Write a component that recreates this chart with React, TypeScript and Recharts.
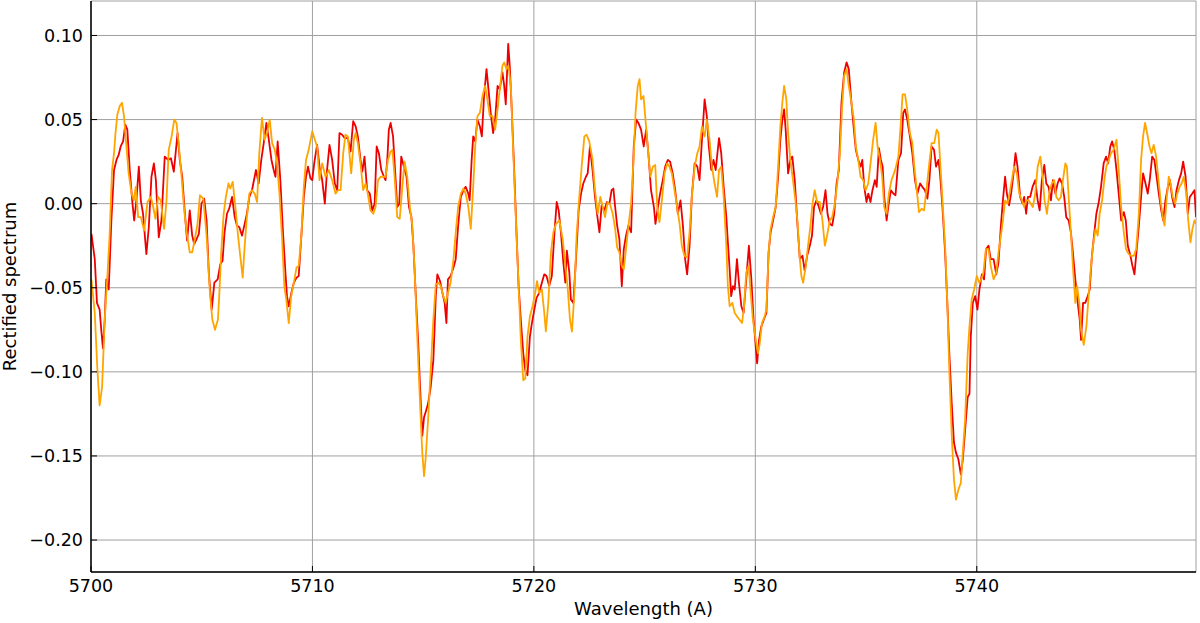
import { LineChart, Line, XAxis, YAxis, CartesianGrid, Label } from 'recharts';

const X_TICKS = [5700, 5710, 5720, 5730, 5740];
const Y_TICKS = [-0.2, -0.15, -0.1, -0.05, 0, 0.05, 0.1];
const X_DOMAIN: [number, number] = [5700, 5749.9];
const Y_DOMAIN: [number, number] = [-0.219, 0.1205];

// [wavelength (A), rectified flux]
const RED_SPECTRUM: [number, number][] = [
  [5700.02, -0.018], [5700.17, -0.033], [5700.27, -0.059], [5700.39, -0.063], [5700.47, -0.076], [5700.54, -0.086],
  [5700.62, -0.069], [5700.69, -0.045], [5700.80, -0.051], [5700.92, -0.010], [5701.04, 0.020], [5701.15, 0.026],
  [5701.25, 0.029], [5701.34, 0.034], [5701.45, 0.037], [5701.55, 0.047], [5701.64, 0.044], [5701.75, 0.020],
  [5701.86, 0.002], [5701.95, -0.010], [5702.05, 0.002], [5702.16, 0.022], [5702.25, 0.002], [5702.35, -0.006],
  [5702.50, -0.030], [5702.61, -0.014], [5702.73, 0.016], [5702.84, 0.024], [5702.93, 0.014], [5703.06, -0.020],
  [5703.18, -0.010], [5703.33, 0.028], [5703.48, 0.026], [5703.61, 0.027], [5703.74, 0.019], [5703.91, 0.042],
  [5704.01, 0.026], [5704.12, 0.016], [5704.24, -0.006], [5704.34, -0.022], [5704.46, -0.004], [5704.57, -0.019],
  [5704.66, -0.024], [5704.77, -0.021], [5704.87, -0.018], [5704.99, 0.000], [5705.11, 0.003], [5705.22, -0.010],
  [5705.32, -0.041], [5705.45, -0.063], [5705.57, -0.047], [5705.72, -0.045],
  [5705.84, -0.036], [5705.94, -0.034], [5706.03, -0.017], [5706.14, -0.006], [5706.24, -0.003], [5706.37, 0.004],
  [5706.49, -0.008], [5706.59, -0.013], [5706.70, -0.014], [5706.82, -0.019], [5706.94, -0.012], [5707.04, -0.006],
  [5707.15, 0.004], [5707.27, 0.008], [5707.39, 0.016], [5707.45, 0.020], [5707.57, 0.012], [5707.69, 0.026],
  [5707.80, 0.036], [5707.92, 0.048], [5708.02, 0.039], [5708.15, 0.026], [5708.25, 0.020], [5708.33, 0.016],
  [5708.43, 0.037], [5708.55, 0.014], [5708.67, -0.017], [5708.78, -0.041], [5708.85, -0.055], [5708.93, -0.061],
  [5709.05, -0.053], [5709.16, -0.047], [5709.28, -0.044], [5709.38, -0.043], [5709.50, -0.019], [5709.61, 0.004],
  [5709.71, 0.016], [5709.80, 0.022], [5709.91, 0.015], [5709.99, 0.014], [5710.09, 0.025], [5710.21, 0.035],
  [5710.32, 0.022], [5710.44, 0.014], [5710.56, 0.000], [5710.66, 0.020], [5710.77, 0.035], [5710.89, 0.026],
  [5711.01, 0.012], [5711.12, 0.008], [5711.22, 0.042], [5711.34, 0.041], [5711.46, 0.039],
  [5711.60, 0.039], [5711.72, 0.031], [5711.84, 0.049], [5711.95, 0.046], [5712.05, 0.040], [5712.17, 0.026],
  [5712.25, 0.019], [5712.35, 0.028], [5712.47, 0.008], [5712.59, 0.006], [5712.70, -0.004], [5712.81, 0.000],
  [5712.90, 0.034], [5713.00, 0.030], [5713.11, 0.020], [5713.23, 0.016], [5713.30, 0.014], [5713.38, 0.026],
  [5713.45, 0.044], [5713.53, 0.048], [5713.64, 0.040], [5713.73, 0.020], [5713.83, -0.002], [5713.92, 0.000],
  [5714.01, 0.028], [5714.13, 0.022], [5714.25, 0.016], [5714.36, -0.002], [5714.47, -0.008], [5714.56, -0.025],
  [5714.66, -0.053], [5714.77, -0.081], [5714.86, -0.109], [5714.96, -0.138], [5715.04, -0.127], [5715.11, -0.124],
  [5715.22, -0.119], [5715.34, -0.109], [5715.46, -0.093], [5715.57, -0.055], [5715.64, -0.042], [5715.76, -0.046],
  [5715.87, -0.053], [5715.97, -0.059], [5716.05, -0.071], [5716.12, -0.045], [5716.24, -0.043], [5716.37, -0.038],
  [5716.47, -0.033], [5716.58, -0.013], [5716.70, 0.004], [5716.82, 0.008], [5716.92, 0.010],
  [5717.04, 0.006], [5717.10, 0.002], [5717.19, 0.026], [5717.26, 0.040], [5717.35, 0.037], [5717.45, 0.050],
  [5717.56, 0.046], [5717.65, 0.040], [5717.75, 0.064], [5717.86, 0.080], [5717.95, 0.068], [5718.05, 0.054],
  [5718.16, 0.042], [5718.25, 0.050], [5718.36, 0.070], [5718.46, 0.068], [5718.58, 0.078], [5718.66, 0.070],
  [5718.73, 0.059], [5718.84, 0.095], [5718.91, 0.082], [5719.00, 0.056], [5719.11, 0.020], [5719.22, -0.019],
  [5719.31, -0.049], [5719.41, -0.069], [5719.52, -0.089], [5719.61, -0.099], [5719.71, -0.102], [5719.82, -0.079],
  [5719.91, -0.071], [5720.02, -0.063], [5720.12, -0.056], [5720.24, -0.053], [5720.36, -0.047], [5720.47, -0.042],
  [5720.57, -0.043], [5720.69, -0.049], [5720.81, -0.043], [5720.92, -0.019], [5721.03, 0.001], [5721.12, -0.004],
  [5721.22, -0.017], [5721.33, -0.035], [5721.42, -0.047], [5721.49, -0.028], [5721.60, -0.041], [5721.67, -0.057],
  [5721.78, -0.059], [5721.90, -0.033], [5722.02, -0.004], [5722.13, 0.006], [5722.23, 0.012], [5722.35, 0.016],
  [5722.43, 0.018], [5722.53, 0.034],
  [5722.65, 0.020], [5722.76, 0.004], [5722.85, -0.006], [5722.96, -0.017], [5723.06, -0.001], [5723.18, -0.004],
  [5723.30, 0.001], [5723.41, 0.000], [5723.51, 0.008], [5723.59, 0.009], [5723.67, -0.002], [5723.76, -0.013],
  [5723.86, -0.021], [5723.97, -0.049], [5724.06, -0.027], [5724.16, -0.019], [5724.27, -0.013], [5724.39, -0.017],
  [5724.51, 0.034], [5724.62, 0.050], [5724.72, 0.048], [5724.84, 0.044], [5724.96, 0.034], [5725.07, 0.044],
  [5725.17, 0.030], [5725.29, 0.008], [5725.42, -0.002], [5725.49, -0.012], [5725.60, -0.002], [5725.70, 0.006],
  [5725.82, 0.014], [5725.93, 0.022], [5726.05, 0.026], [5726.15, 0.025], [5726.27, 0.018], [5726.38, 0.008],
  [5726.50, -0.006], [5726.62, 0.002], [5726.73, -0.013], [5726.83, -0.033], [5726.92, -0.042], [5727.03, -0.025],
  [5727.13, 0.004], [5727.26, 0.024], [5727.38, 0.022], [5727.48, 0.014], [5727.59, 0.038], [5727.71, 0.062],
  [5727.81, 0.052], [5727.90, 0.034], [5728.01, 0.020], [5728.11, 0.026], [5728.21, 0.020],
  [5728.36, 0.039], [5728.46, 0.030], [5728.57, 0.010], [5728.69, -0.008], [5728.76, -0.023], [5728.84, -0.039],
  [5728.91, -0.055], [5728.99, -0.049], [5729.07, -0.051], [5729.17, -0.033], [5729.26, -0.047], [5729.37, -0.061],
  [5729.47, -0.065], [5729.59, -0.045], [5729.71, -0.025], [5729.82, -0.045], [5729.92, -0.069], [5730.02, -0.085],
  [5730.08, -0.095], [5730.17, -0.081], [5730.27, -0.073], [5730.38, -0.069], [5730.50, -0.065], [5730.60, -0.029],
  [5730.69, -0.017], [5730.80, -0.010], [5730.92, -0.002], [5731.03, 0.016], [5731.13, 0.038], [5731.22, 0.050],
  [5731.30, 0.056], [5731.37, 0.044], [5731.48, 0.018], [5731.58, 0.026], [5731.67, 0.028], [5731.78, 0.014],
  [5731.89, -0.010], [5732.01, -0.033], [5732.13, -0.031], [5732.23, -0.040], [5732.34, -0.031], [5732.46, -0.025],
  [5732.56, -0.019], [5732.65, -0.002], [5732.76, 0.002], [5732.87, -0.002], [5732.96, -0.006], [5733.06, -0.002],
  [5733.17, 0.008], [5733.26, -0.006], [5733.36, -0.012], [5733.47, -0.013], [5733.56, -0.006], [5733.67, 0.012],
  [5733.77, 0.020],
  [5733.89, 0.060], [5734.01, 0.078], [5734.12, 0.084], [5734.22, 0.080], [5734.34, 0.060], [5734.45, 0.044],
  [5734.54, 0.032], [5734.65, 0.026], [5734.75, 0.022], [5734.83, 0.026], [5734.92, 0.010], [5735.02, 0.001],
  [5735.10, 0.006], [5735.20, 0.001], [5735.29, 0.008], [5735.40, 0.014], [5735.48, 0.010], [5735.58, 0.033],
  [5735.67, 0.026], [5735.75, 0.022], [5735.82, 0.004], [5735.93, -0.010], [5736.00, -0.002], [5736.12, 0.008],
  [5736.23, 0.006], [5736.33, 0.005], [5736.46, 0.026], [5736.58, 0.030], [5736.68, 0.054], [5736.76, 0.056],
  [5736.86, 0.050], [5736.98, 0.040], [5737.09, 0.030], [5737.21, 0.014], [5737.32, 0.006], [5737.44, 0.012],
  [5737.54, 0.010], [5737.66, 0.008], [5737.77, 0.003], [5737.86, 0.014], [5737.96, 0.034], [5738.07, 0.032],
  [5738.16, 0.022], [5738.27, 0.026], [5738.34, 0.018], [5738.45, -0.002], [5738.57, -0.029], [5738.67, -0.059],
  [5738.76, -0.089], [5738.87, -0.119], [5738.97, -0.142], [5739.06, -0.148], [5739.17, -0.152], [5739.28, -0.161],
  [5739.37, -0.152], [5739.47, -0.135], [5739.59, -0.115],
  [5739.67, -0.113], [5739.73, -0.079], [5739.82, -0.059], [5739.93, -0.055], [5740.03, -0.063], [5740.12, -0.051],
  [5740.23, -0.042], [5740.33, -0.045], [5740.42, -0.027], [5740.53, -0.025], [5740.63, -0.033], [5740.76, -0.033],
  [5740.88, -0.042], [5740.98, -0.035], [5741.09, -0.013], [5741.18, 0.002], [5741.28, 0.016], [5741.36, 0.006],
  [5741.46, -0.001], [5741.55, 0.006], [5741.66, 0.018], [5741.75, 0.030], [5741.84, 0.022], [5741.96, 0.004],
  [5742.07, 0.000], [5742.14, 0.004], [5742.23, -0.006], [5742.31, 0.004], [5742.41, 0.004], [5742.52, 0.010],
  [5742.64, 0.014], [5742.75, 0.002], [5742.84, -0.004], [5742.94, 0.014], [5743.05, 0.023], [5743.14, 0.012],
  [5743.24, 0.010], [5743.35, 0.002], [5743.44, 0.014], [5743.55, 0.006], [5743.65, 0.012], [5743.74, 0.015],
  [5743.85, 0.012], [5743.95, 0.004], [5744.04, -0.008], [5744.15, -0.010], [5744.25, -0.017], [5744.34, -0.029],
  [5744.45, -0.045], [5744.56, -0.059], [5744.65, -0.069],
  [5744.71, -0.081], [5744.80, -0.059], [5744.90, -0.059], [5745.01, -0.055], [5745.10, -0.051], [5745.20, -0.031],
  [5745.31, -0.017], [5745.40, -0.006], [5745.51, 0.001], [5745.61, 0.010], [5745.73, 0.024], [5745.84, 0.028],
  [5745.93, 0.024], [5746.03, 0.034], [5746.11, 0.037], [5746.21, 0.032], [5746.31, 0.020], [5746.41, 0.006],
  [5746.52, -0.010], [5746.64, -0.005], [5746.73, -0.010], [5746.82, -0.025], [5746.94, -0.031], [5747.03, -0.037],
  [5747.12, -0.042], [5747.21, -0.029], [5747.32, -0.013], [5747.42, 0.004], [5747.51, 0.018], [5747.62, 0.012],
  [5747.72, 0.006], [5747.81, 0.014], [5747.92, 0.028], [5748.02, 0.026], [5748.12, 0.016], [5748.22, 0.006],
  [5748.33, -0.004], [5748.42, -0.010], [5748.52, 0.002], [5748.63, 0.010], [5748.72, 0.014], [5748.82, 0.004],
  [5748.93, -0.002], [5749.02, 0.008], [5749.13, 0.014], [5749.23, 0.018], [5749.32, 0.025], [5749.43, 0.016],
  [5749.53, -0.006], [5749.62, 0.004], [5749.73, 0.006], [5749.83, 0.008], [5749.90, -0.008],
];

const ORANGE_SPECTRUM: [number, number][] = [
  [5700.02, -0.045], [5700.17, -0.065], [5700.29, -0.099], [5700.39, -0.120], [5700.50, -0.109], [5700.62, -0.069],
  [5700.74, -0.043], [5700.84, -0.019], [5700.95, 0.020], [5701.04, 0.030], [5701.10, 0.041], [5701.19, 0.053],
  [5701.30, 0.058], [5701.40, 0.060], [5701.49, 0.052], [5701.60, 0.034], [5701.70, 0.018], [5701.83, 0.006],
  [5701.93, 0.002], [5702.02, 0.010], [5702.13, -0.008], [5702.25, -0.008], [5702.40, -0.016], [5702.55, 0.001],
  [5702.70, 0.004], [5702.81, -0.002], [5702.91, -0.009], [5703.03, 0.004], [5703.15, 0.002], [5703.30, -0.015],
  [5703.41, 0.002], [5703.51, 0.032], [5703.64, 0.040], [5703.76, 0.050], [5703.86, 0.048], [5703.97, 0.034],
  [5704.09, 0.016], [5704.21, -0.004], [5704.33, -0.018], [5704.46, -0.029], [5704.57, -0.029], [5704.69, -0.021],
  [5704.81, -0.012], [5704.92, 0.005], [5705.07, 0.003], [5705.22, -0.019], [5705.37, -0.053], [5705.48, -0.069],
  [5705.60, -0.075],
  [5705.73, -0.069], [5705.79, -0.055], [5705.88, -0.029], [5705.99, -0.006], [5706.09, 0.004], [5706.21, 0.012],
  [5706.29, 0.009], [5706.40, 0.013], [5706.52, -0.002], [5706.64, -0.019], [5706.74, -0.031], [5706.85, -0.044],
  [5706.94, -0.025], [5707.04, -0.008], [5707.15, 0.006], [5707.27, 0.008], [5707.39, 0.006], [5707.50, 0.001],
  [5707.60, 0.030], [5707.72, 0.051], [5707.84, 0.038], [5707.95, 0.042], [5708.07, 0.050], [5708.18, 0.036],
  [5708.30, 0.032], [5708.40, 0.024], [5708.51, 0.006], [5708.63, -0.021], [5708.73, -0.049], [5708.82, -0.057],
  [5708.93, -0.071], [5709.04, -0.055], [5709.16, -0.047], [5709.28, -0.038], [5709.38, -0.037], [5709.50, -0.019],
  [5709.61, 0.010], [5709.71, 0.026], [5709.83, 0.032], [5709.99, 0.043], [5710.11, 0.038], [5710.21, 0.034],
  [5710.32, 0.014], [5710.44, 0.024], [5710.59, 0.016], [5710.74, 0.020], [5710.89, 0.014], [5711.04, 0.006],
  [5711.16, 0.008],
  [5711.27, 0.008], [5711.39, 0.030], [5711.49, 0.041], [5711.60, 0.040], [5711.75, 0.018], [5711.87, 0.038],
  [5711.95, 0.042], [5712.05, 0.036], [5712.17, 0.024], [5712.29, 0.008], [5712.40, 0.012], [5712.50, 0.006],
  [5712.62, -0.004], [5712.75, -0.006], [5712.85, -0.002], [5712.96, 0.014], [5713.08, 0.016], [5713.20, 0.016],
  [5713.30, 0.016], [5713.41, 0.026], [5713.53, 0.031], [5713.61, 0.032], [5713.71, 0.016], [5713.83, -0.008],
  [5713.94, -0.009], [5714.06, 0.010], [5714.16, 0.025], [5714.28, 0.016], [5714.40, -0.002], [5714.51, -0.013],
  [5714.62, -0.041], [5714.74, -0.081], [5714.86, -0.119], [5714.96, -0.148], [5715.04, -0.162], [5715.11, -0.152],
  [5715.22, -0.129], [5715.34, -0.099], [5715.46, -0.069], [5715.57, -0.048], [5715.69, -0.047], [5715.79, -0.049],
  [5715.91, -0.055], [5716.02, -0.059], [5716.12, -0.053], [5716.24, -0.047], [5716.37, -0.033], [5716.47, -0.017],
  [5716.58, -0.002], [5716.70, 0.006], [5716.82, 0.009],
  [5716.92, 0.006], [5717.04, -0.002], [5717.15, -0.015], [5717.26, 0.010], [5717.35, 0.034], [5717.45, 0.052],
  [5717.56, 0.054], [5717.68, 0.064], [5717.80, 0.070], [5717.90, 0.062], [5718.01, 0.052], [5718.13, 0.052],
  [5718.25, 0.044], [5718.36, 0.056], [5718.46, 0.068], [5718.58, 0.082], [5718.66, 0.084], [5718.76, 0.080],
  [5718.85, 0.082], [5718.96, 0.070], [5719.07, 0.030], [5719.19, -0.010], [5719.31, -0.049], [5719.41, -0.081],
  [5719.52, -0.105], [5719.61, -0.104], [5719.71, -0.079], [5719.82, -0.067], [5719.94, -0.061], [5720.06, -0.053],
  [5720.14, -0.046], [5720.24, -0.053], [5720.36, -0.051], [5720.47, -0.065], [5720.54, -0.076], [5720.65, -0.059],
  [5720.77, -0.029], [5720.88, -0.017], [5721.00, -0.012], [5721.15, -0.010], [5721.30, -0.021], [5721.42, -0.037],
  [5721.52, -0.049], [5721.63, -0.069], [5721.72, -0.076], [5721.83, -0.053], [5721.93, -0.019], [5722.05, 0.004],
  [5722.17, 0.024], [5722.28, 0.040], [5722.38, 0.041], [5722.50, 0.037],
  [5722.65, 0.026], [5722.76, 0.008], [5722.88, -0.006], [5723.00, 0.004], [5723.11, -0.002], [5723.21, -0.008],
  [5723.33, 0.001], [5723.45, -0.001], [5723.56, -0.006], [5723.67, -0.015], [5723.76, -0.026], [5723.86, -0.029],
  [5723.97, -0.037], [5724.06, -0.039], [5724.16, -0.027], [5724.27, -0.013], [5724.39, 0.000], [5724.50, 0.026],
  [5724.59, 0.054], [5724.69, 0.070], [5724.77, 0.074], [5724.84, 0.062], [5724.95, 0.064], [5725.04, 0.050],
  [5725.14, 0.034], [5725.26, 0.016], [5725.37, 0.022], [5725.48, 0.023], [5725.57, -0.002], [5725.67, -0.011],
  [5725.78, 0.002], [5725.90, 0.018], [5726.02, 0.024], [5726.12, 0.022], [5726.23, 0.018], [5726.35, 0.008],
  [5726.47, -0.002], [5726.58, -0.012], [5726.68, -0.025], [5726.80, -0.031], [5726.92, -0.032], [5727.03, -0.017],
  [5727.13, 0.004], [5727.26, 0.022], [5727.38, 0.030], [5727.48, 0.034], [5727.59, 0.046], [5727.71, 0.040],
  [5727.81, 0.050], [5727.93, 0.038], [5728.04, 0.022], [5728.16, 0.012], [5728.27, 0.004],
  [5728.36, 0.020], [5728.46, 0.022], [5728.57, 0.004], [5728.69, -0.025], [5728.76, -0.049], [5728.84, -0.061],
  [5728.96, -0.059], [5729.07, -0.065], [5729.17, -0.067], [5729.29, -0.069], [5729.40, -0.071], [5729.49, -0.061],
  [5729.59, -0.041], [5729.70, -0.037], [5729.79, -0.053], [5729.89, -0.069], [5730.02, -0.081], [5730.12, -0.089],
  [5730.20, -0.083], [5730.30, -0.071], [5730.42, -0.067], [5730.50, -0.063], [5730.60, -0.029], [5730.69, -0.015],
  [5730.80, -0.008], [5730.92, -0.002], [5731.03, 0.022], [5731.13, 0.046], [5731.22, 0.060], [5731.30, 0.070],
  [5731.40, 0.062], [5731.48, 0.042], [5731.58, 0.026], [5731.70, 0.014], [5731.81, 0.002], [5731.90, -0.010],
  [5732.01, -0.033], [5732.08, -0.043], [5732.16, -0.047], [5732.28, -0.037], [5732.38, -0.025], [5732.49, -0.013],
  [5732.58, 0.000], [5732.68, 0.008], [5732.79, 0.001], [5732.91, 0.001], [5733.03, -0.010], [5733.14, -0.025],
  [5733.24, -0.019], [5733.36, -0.010], [5733.47, -0.008], [5733.59, 0.000], [5733.70, 0.012], [5733.82, 0.030],
  [5733.92, 0.058],
  [5734.01, 0.076], [5734.12, 0.080], [5734.22, 0.070], [5734.34, 0.060], [5734.45, 0.050], [5734.54, 0.034],
  [5734.65, 0.026], [5734.75, 0.016], [5734.87, 0.014], [5734.98, 0.008], [5735.10, 0.012], [5735.22, 0.026],
  [5735.32, 0.038], [5735.43, 0.048], [5735.52, 0.034], [5735.63, 0.026], [5735.73, 0.016], [5735.82, -0.002],
  [5735.93, -0.006], [5736.03, 0.006], [5736.15, 0.014], [5736.26, 0.018], [5736.35, 0.022], [5736.46, 0.028],
  [5736.56, 0.046], [5736.65, 0.065], [5736.76, 0.065], [5736.86, 0.056], [5736.98, 0.042], [5737.09, 0.036],
  [5737.18, 0.022], [5737.29, 0.008], [5737.39, -0.005], [5737.51, -0.003], [5737.62, -0.004], [5737.74, 0.010],
  [5737.84, 0.022], [5737.96, 0.036], [5738.08, 0.036], [5738.19, 0.044], [5738.27, 0.042], [5738.37, 0.020],
  [5738.46, 0.000], [5738.57, -0.025], [5738.67, -0.059], [5738.76, -0.099], [5738.87, -0.138], [5738.97, -0.164],
  [5739.06, -0.176], [5739.17, -0.170], [5739.28, -0.166], [5739.37, -0.148], [5739.47, -0.129], [5739.59, -0.089],
  [5739.67, -0.073], [5739.77, -0.057], [5739.88, -0.051], [5740.00, -0.043], [5740.11, -0.047], [5740.21, -0.045],
  [5740.30, -0.041], [5740.41, -0.027], [5740.53, -0.027], [5740.63, -0.037], [5740.76, -0.045], [5740.88, -0.041],
  [5740.98, -0.029], [5741.09, -0.019], [5741.18, -0.010], [5741.28, 0.002], [5741.39, 0.000], [5741.48, 0.006],
  [5741.58, 0.014], [5741.69, 0.022], [5741.81, 0.018], [5741.92, 0.006], [5742.04, 0.002], [5742.14, -0.002],
  [5742.23, 0.002], [5742.34, 0.002], [5742.44, 0.000], [5742.53, -0.002], [5742.64, 0.006], [5742.75, 0.022],
  [5742.87, 0.028], [5742.97, 0.016], [5743.06, 0.002], [5743.17, -0.006], [5743.29, 0.008], [5743.39, 0.012],
  [5743.50, 0.014], [5743.59, 0.004], [5743.70, 0.002], [5743.80, 0.004], [5743.89, 0.014], [5744.00, 0.024],
  [5744.07, 0.022], [5744.15, 0.004], [5744.25, -0.017], [5744.34, -0.037], [5744.45, -0.059], [5744.53, -0.049],
  [5744.63, -0.059],
  [5744.71, -0.075], [5744.83, -0.084], [5744.95, -0.073], [5745.05, -0.055], [5745.16, -0.037], [5745.25, -0.025],
  [5745.36, -0.015], [5745.46, -0.019], [5745.55, -0.006], [5745.66, 0.002], [5745.76, 0.014], [5745.85, 0.022],
  [5745.96, 0.026], [5746.06, 0.030], [5746.18, 0.032], [5746.31, 0.038], [5746.41, 0.020], [5746.52, -0.002],
  [5746.64, -0.017], [5746.74, -0.027], [5746.86, -0.030], [5746.97, -0.031], [5747.09, -0.031], [5747.20, -0.027],
  [5747.32, -0.006], [5747.42, 0.026], [5747.51, 0.040], [5747.60, 0.048], [5747.69, 0.042], [5747.80, 0.034],
  [5747.89, 0.030], [5747.99, 0.035], [5748.10, 0.028], [5748.19, 0.016], [5748.30, 0.002], [5748.40, -0.008],
  [5748.48, -0.013], [5748.57, 0.002], [5748.67, 0.016], [5748.75, 0.012], [5748.85, 0.004], [5748.96, 0.000],
  [5749.05, 0.006], [5749.16, 0.010], [5749.25, 0.012], [5749.35, 0.016], [5749.46, 0.006], [5749.55, -0.010],
  [5749.65, -0.023], [5749.74, -0.015], [5749.83, -0.010], [5749.90, -0.012],
];

const FONT = '"DejaVu Sans", Verdana, sans-serif';
const TICK_LEN = 6;

const redData = RED_SPECTRUM.map(([wl, flux]) => ({ wl, flux }));
const orangeData = ORANGE_SPECTRUM.map(([wl, flux]) => ({ wl, flux }));

function fmtY(v: number) {
  const s = Math.abs(v).toFixed(2);
  return v < -1e-9 ? '\u2212' + s : s;
}

// ticks point into the plot, like matplotlib's classic style
function BottomTick({ x, y, payload }: any) {
  return (
    <g>
      <line x1={x} y1={y} x2={x} y2={y - TICK_LEN} stroke="#000" strokeWidth={1} />
      <text x={x} y={y + 20} textAnchor="middle" fontSize={17.5} fontFamily={FONT} fill="#000">
        {payload.value}
      </text>
    </g>
  );
}

function LeftTick({ x, y, payload }: any) {
  return (
    <g>
      <line x1={x} y1={y} x2={x + TICK_LEN} y2={y} stroke="#000" strokeWidth={1} />
      <text x={x - 8} y={y} dy="0.36em" textAnchor="end" fontSize={17.5} fontFamily={FONT} fill="#000">
        {fmtY(payload.value)}
      </text>
    </g>
  );
}

const NoLabel = () => <g />;

export default function App() {
  return (
    <div style={{ position: 'absolute', left: 0, top: 0, width: 1200, height: 623, background: '#fff' }}>
      <LineChart width={1200} height={623} margin={{ top: 1, right: 4, bottom: 0, left: 0 }}>
        <CartesianGrid stroke="#a0a0a0" strokeWidth={1} />
        <XAxis
          dataKey="wl"
          type="number"
          domain={X_DOMAIN}
          ticks={X_TICKS}
          interval={0}
          allowDataOverflow
          height={51}
          tickSize={0}
          tickMargin={0}
          tickLine={false}
          tick={<BottomTick />}
          axisLine={{ stroke: '#000', strokeWidth: 1.5 }}
        >
          <Label
            value="Wavelength (A)"
            position="insideBottom"
            offset={8}
            style={{ fontSize: 18, fontFamily: FONT, fill: '#000' }}
          />
        </XAxis>
        <XAxis
          xAxisId="top"
          orientation="top"
          dataKey="wl"
          type="number"
          domain={X_DOMAIN}
          ticks={X_TICKS}
          interval={0}
          allowDataOverflow
          height={0}
          mirror
          tickSize={TICK_LEN}
          tick={NoLabel}
          tickLine={{ stroke: '#000' }}
          axisLine={{ stroke: '#000', strokeWidth: 1.5 }}
        />
        <YAxis
          type="number"
          domain={Y_DOMAIN}
          ticks={Y_TICKS}
          interval={0}
          allowDataOverflow
          width={91}
          tickSize={0}
          tickMargin={0}
          tickLine={false}
          tick={<LeftTick />}
          axisLine={{ stroke: '#000', strokeWidth: 1.5 }}
        >
          <Label
            value="Rectified spectrum"
            angle={-90}
            position="insideLeft"
            offset={10}
            style={{ fontSize: 18, fontFamily: FONT, fill: '#000', textAnchor: 'middle' }}
          />
        </YAxis>
        <YAxis
          yAxisId="right"
          orientation="right"
          type="number"
          domain={Y_DOMAIN}
          ticks={Y_TICKS}
          interval={0}
          allowDataOverflow
          width={0}
          mirror
          tickSize={TICK_LEN}
          tick={NoLabel}
          tickLine={{ stroke: '#000' }}
          axisLine={{ stroke: '#000', strokeWidth: 1.5 }}
        />
        <Line
          data={redData}
          dataKey="flux"
          type="linear"
          stroke="#ee0000"
          strokeWidth={1.8}
          strokeLinejoin="round"
          dot={false}
          activeDot={false}
          isAnimationActive={false}
        />
        <Line
          data={orangeData}
          dataKey="flux"
          type="linear"
          stroke="#ffa500"
          strokeWidth={1.8}
          strokeLinejoin="round"
          dot={false}
          activeDot={false}
          isAnimationActive={false}
        />
      </LineChart>
    </div>
  );
}
